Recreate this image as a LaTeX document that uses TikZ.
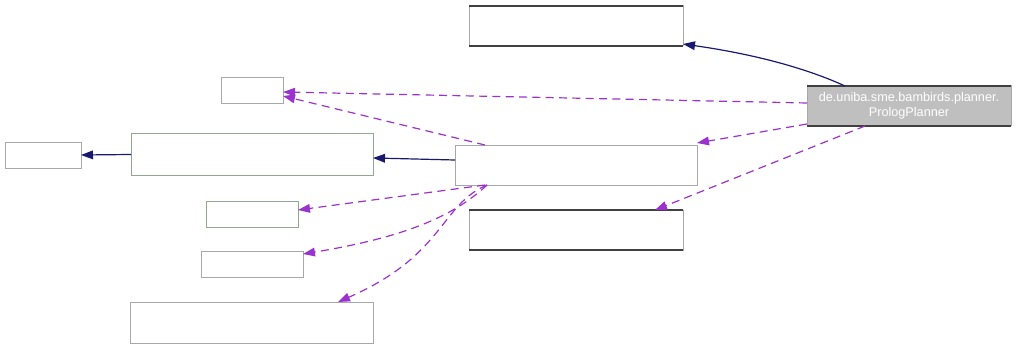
\documentclass[tikz,border=0pt]{standalone}
\usepackage{fontspec}
\setmainfont{Liberation Sans}
\usetikzlibrary{arrows.meta}
\definecolor{navyedge}{HTML}{191970}
\definecolor{orchidedge}{HTML}{9A32CD}
\definecolor{boxgray}{HTML}{A8A8A8}
\definecolor{boxgreen}{HTML}{90A890}
\definecolor{boxdark}{HTML}{404040}
\tikzset{
  box/.style={draw=boxgray, line width=0.75pt, fill=white, inner sep=0pt, outer sep=0pt},
  classbox/.style={box, draw=boxgray},
  greenbox/.style={box, draw=boxgreen},
  focusbox/.style={box, fill=black!25, draw=boxgray, text=white, align=center,
    font=\fontsize{9.5}{11.5}\selectfont},
  rimline/.style={draw=boxdark, line width=1.5pt},
  inherit/.style={draw=navyedge, line width=0.9pt,
    -{Triangle[length=9pt,width=6.5pt,fill=navyedge]}},
  uses/.style={draw=orchidedge, line width=0.9pt, dash pattern=on 6pt off 4pt,
    -{Triangle[length=9pt,width=6.5pt,fill=orchidedge]}},
}
\begin{document}
\begin{tikzpicture}[x=0.75pt,y=-0.75pt]
\useasboundingbox (0,0) rectangle (1019,349);

% class boxes
\node[focusbox, minimum width=153pt, minimum height=30pt] (main) at (909,106)
  {de.uniba.sme.bambirds.planner.\\PrologPlanner};
\node[classbox, minimum width=160.5pt, minimum height=30pt] (topbase) at (576,26) {};
\node[classbox, minimum width=181.5pt, minimum height=30pt] (hub) at (576,165) {};
\node[classbox, minimum width=160.5pt, minimum height=30pt] (lowbase) at (576,230) {};
\node[classbox, minimum width=46.5pt, minimum height=19.5pt] (small) at (252,91) {};
\node[greenbox, minimum width=181.5pt, minimum height=30.75pt] (parent) at (252,154.5) {};
\node[classbox, minimum width=57pt, minimum height=19.5pt] (root) at (43,155) {};
\node[greenbox, minimum width=69pt, minimum height=19.5pt] (depa) at (252,214) {};
\node[classbox, minimum width=76.5pt, minimum height=19.5pt] (depb) at (252,264) {};
\node[classbox, minimum width=182.25pt, minimum height=30.75pt] (depc) at (251.5,322.5) {};

% dark rims on the top and bottom edges
\foreach \n in {main,topbase,lowbase}{
  \draw[rimline] (\n.north west) -- (\n.north east);
  \draw[rimline] (\n.south west) -- (\n.south east);
}

% inheritance
\draw[inherit] ([xshift=28.5pt]main.north west)
  .. controls (810,70) and (760,55) .. ([yshift=1.5pt]topbase.south east);
\draw[inherit] ([yshift=3.75pt]hub.west) -- ([yshift=-2.6pt]parent.east);
\draw[inherit] (parent.west) -- (root.east);

% usage dependencies
\draw[uses] ([yshift=2.25pt]main.west) -- ([yshift=-0.75pt]small.east);
\draw[uses] ([xshift=22.5pt]hub.north west) -- ([yshift=-3.75pt]small.east);
\draw[uses] ([yshift=1.5pt]main.south west) -- ([yshift=1.5pt]hub.north east);
\draw[uses] ([xshift=43.5pt]main.south west) -- ([xshift=-21pt]lowbase.north east);
\draw[uses] ([xshift=22.5pt]hub.south west) -- ([yshift=3pt]depa.east);
\draw[uses] ([xshift=24pt]hub.south west)
  .. controls (452,218) and (400,238) .. ([yshift=-2.25pt]depb.north east);
\draw[uses] ([xshift=24pt]hub.south west)
  .. controls (440,205) and (445,255) .. ([xshift=-26.25pt]depc.north east);
\end{tikzpicture}
\end{document}
